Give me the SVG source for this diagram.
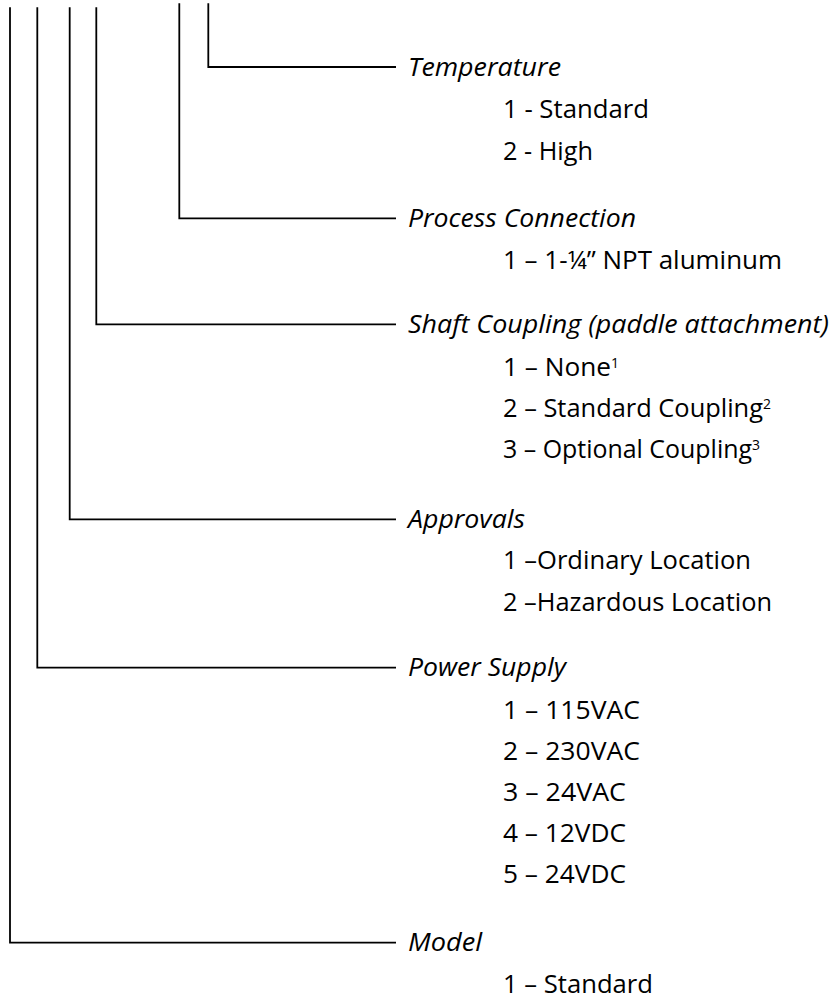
<svg xmlns="http://www.w3.org/2000/svg" width="833" height="998" viewBox="0 0 833 998">
<style>
  .conn { fill: none; stroke: #000; stroke-width: 1.8; }
  .hdr { font-family: "Open Sans", "Noto Sans", "Liberation Sans", sans-serif; font-style: italic; font-size: 25.5px; fill: #000; }
  .item { font-family: "Open Sans", "Noto Sans", "Liberation Sans", sans-serif; font-size: 25.5px; fill: #000; }
  .sup { font-size: 14px; }
</style>
<rect width="833" height="998" fill="#fff"/>
<g id="connectors">
  <path class="conn" d="M208.3,3.3 V67 H396"/>
  <path class="conn" d="M179.3,3.3 V218.3 H396"/>
  <path class="conn" d="M96.3,7.3 V324.3 H396"/>
  <path class="conn" d="M69.7,7.3 V519.3 H396"/>
  <path class="conn" d="M37.3,7.3 V667.7 H396"/>
  <path class="conn" d="M10,7.3 V942.7 H396"/>
</g>
<g id="temperature">
  <text class="hdr" x="408" y="75.5" textLength="153" lengthAdjust="spacingAndGlyphs">Temperature</text>
  <text class="item" x="503" y="118" textLength="146" lengthAdjust="spacingAndGlyphs">1 - Standard</text>
  <text class="item" x="503" y="159.5" textLength="90" lengthAdjust="spacingAndGlyphs">2 - High</text>
</g>
<g id="process-connection">
  <text class="hdr" x="408" y="226.8" textLength="228" lengthAdjust="spacingAndGlyphs">Process Connection</text>
  <text class="item" x="503" y="268.5" textLength="279" lengthAdjust="spacingAndGlyphs">1 – 1-¼” NPT aluminum</text>
</g>
<g id="shaft-coupling">
  <text class="hdr" x="408" y="332.8" textLength="421" lengthAdjust="spacingAndGlyphs">Shaft Coupling (paddle attachment)</text>
  <text class="item" x="503" y="376"><tspan textLength="108" lengthAdjust="spacingAndGlyphs">1 – None</tspan><tspan class="sup" dy="-8">1</tspan></text>
  <text class="item" x="503" y="417"><tspan textLength="260" lengthAdjust="spacingAndGlyphs">2 – Standard Coupling</tspan><tspan class="sup" dy="-8">2</tspan></text>
  <text class="item" x="503" y="458"><tspan textLength="249" lengthAdjust="spacingAndGlyphs">3 – Optional Coupling</tspan><tspan class="sup" dy="-8">3</tspan></text>
</g>
<g id="approvals">
  <text class="hdr" x="408" y="527.5" textLength="117" lengthAdjust="spacingAndGlyphs">Approvals</text>
  <text class="item" x="503" y="569" textLength="248" lengthAdjust="spacingAndGlyphs">1 –Ordinary Location</text>
  <text class="item" x="503" y="610.5" textLength="269" lengthAdjust="spacingAndGlyphs">2 –Hazardous Location</text>
</g>
<g id="power-supply">
  <text class="hdr" x="408" y="676" textLength="158" lengthAdjust="spacingAndGlyphs">Power Supply</text>
  <text class="item" x="503" y="719" textLength="137" lengthAdjust="spacingAndGlyphs">1 – 115VAC</text>
  <text class="item" x="503" y="760" textLength="137" lengthAdjust="spacingAndGlyphs">2 – 230VAC</text>
  <text class="item" x="503" y="801" textLength="123" lengthAdjust="spacingAndGlyphs">3 – 24VAC</text>
  <text class="item" x="503" y="842" textLength="123" lengthAdjust="spacingAndGlyphs">4 – 12VDC</text>
  <text class="item" x="503" y="883.3" textLength="123" lengthAdjust="spacingAndGlyphs">5 – 24VDC</text>
</g>
<g id="model">
  <text class="hdr" x="408" y="951" textLength="74" lengthAdjust="spacingAndGlyphs">Model</text>
  <text class="item" x="503" y="992.5" textLength="150" lengthAdjust="spacingAndGlyphs">1 – Standard</text>
</g>
</svg>
